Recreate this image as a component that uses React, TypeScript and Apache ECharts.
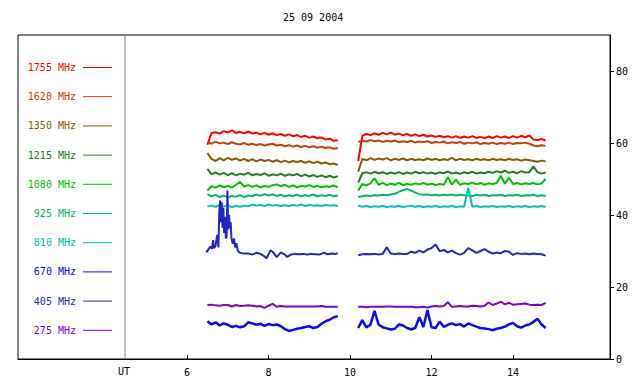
import React, { useEffect, useRef } from "react";
import * as echarts from "echarts";

const TITLE = "25 09 2004";
const FREQS = ["1755 MHz", "1620 MHz", "1350 MHz", "1215 MHz", "1080 MHz", "925 MHz", "810 MHz", "670 MHz", "405 MHz", "275 MHz"];
const X_TICKS = [6, 8, 10, 12, 14];
const Y_TICKS = [0, 20, 40, 60, 80];

const T1 = [6.5, 6.6, 6.7, 6.8, 6.9, 7.0, 7.1, 7.2, 7.3, 7.4, 7.5, 7.6, 7.7, 7.8, 7.9, 8.0, 8.1, 8.2, 8.3, 8.4, 8.5, 8.6, 8.7, 8.8, 8.9, 9.0, 9.1, 9.2, 9.3, 9.4, 9.5, 9.6, 9.7];
const T2 = [10.2, 10.3, 10.4, 10.5, 10.6, 10.7, 10.8, 10.9, 11.0, 11.1, 11.2, 11.3, 11.4, 11.5, 11.6, 11.7, 11.8, 11.9, 12.0, 12.1, 12.2, 12.3, 12.4, 12.5, 12.6, 12.7, 12.8, 12.9, 13.0, 13.1, 13.2, 13.3, 13.4, 13.5, 13.6, 13.7, 13.8, 13.9, 14.0, 14.1, 14.2, 14.3, 14.4, 14.5, 14.6, 14.7, 14.8];

const F1755_A = [59.5, 62.8, 63.0, 62.6, 63.3, 62.9, 63.5, 62.8, 63.1, 62.7, 63.2, 62.6, 62.9, 62.4, 62.8, 62.3, 62.7, 62.2, 62.5, 62.0, 62.4, 61.9, 62.2, 61.7, 62.0, 61.5, 61.8, 61.3, 61.5, 61.0, 61.2, 60.6, 60.8];
const F1755_B = [55.0, 62.0, 62.5, 62.2, 62.7, 62.3, 62.8, 62.4, 62.9, 62.3, 62.6, 62.2, 62.5, 62.0, 62.4, 61.9, 62.3, 61.8, 62.1, 61.7, 62.0, 61.6, 61.9, 61.5, 61.9, 61.4, 61.8, 61.5, 61.9, 61.4, 61.7, 61.3, 61.8, 61.4, 61.9, 61.5, 61.8, 61.4, 61.9, 61.5, 62.0, 61.6, 62.1, 61.0, 60.8, 61.1, 60.7];
const F1620_A = [60.2, 59.8, 60.4, 59.9, 60.1, 59.7, 60.2, 59.8, 59.6, 60.0, 59.5, 59.8, 59.4, 59.7, 59.3, 59.6, 59.8, 59.3, 59.5, 59.1, 59.4, 59.0, 59.3, 58.9, 59.2, 58.8, 59.1, 58.7, 59.0, 58.6, 58.8, 58.4, 58.6];
const F1620_B = [60.3, 60.6, 60.4, 60.8, 60.5, 60.7, 60.3, 60.6, 60.4, 60.7, 60.2, 60.5, 60.3, 60.6, 60.1, 60.4, 60.2, 60.5, 60.0, 60.3, 60.1, 60.4, 59.9, 60.2, 60.0, 60.3, 59.8, 60.1, 59.9, 60.2, 59.7, 60.0, 59.8, 60.1, 59.7, 60.0, 59.8, 60.1, 59.7, 60.0, 59.9, 60.1, 59.8, 59.3, 59.1, 59.4, 59.2];
const F1350_A = [57.2, 55.6, 55.0, 55.8, 55.2, 55.9, 55.3, 55.7, 55.1, 55.6, 55.0, 55.5, 54.9, 55.4, 55.0, 55.3, 54.8, 55.2, 54.7, 55.1, 54.6, 55.0, 54.7, 55.0, 54.5, 54.9, 54.4, 54.8, 54.3, 54.6, 54.1, 54.3, 53.9];
const F1350_B = [52.0, 55.6, 55.2, 55.8, 55.3, 55.7, 55.4, 55.8, 55.2, 55.6, 55.3, 55.7, 55.2, 55.6, 55.3, 55.5, 55.2, 55.7, 55.3, 55.6, 55.2, 55.5, 55.3, 55.9, 55.2, 55.6, 55.3, 55.5, 55.2, 55.6, 55.3, 55.5, 55.2, 55.6, 55.3, 55.5, 55.2, 55.6, 55.3, 55.5, 55.1, 55.4, 55.2, 55.0, 54.8, 55.1, 54.9];
const F1215_A = [52.8, 51.3, 51.8, 51.2, 51.7, 51.1, 51.6, 51.0, 51.5, 51.2, 51.7, 51.0, 51.4, 51.1, 51.6, 50.9, 51.3, 51.0, 51.5, 50.9, 51.3, 51.0, 51.4, 50.8, 51.2, 50.7, 51.1, 50.6, 51.0, 50.5, 50.9, 50.4, 50.8];
const F1215_B = [49.0, 51.6, 51.9, 51.5, 52.0, 51.6, 51.9, 51.4, 51.8, 51.5, 51.9, 51.4, 51.8, 51.5, 52.0, 51.6, 51.9, 51.5, 51.8, 51.4, 51.9, 51.6, 52.1, 51.5, 51.8, 51.4, 51.9, 51.6, 52.0, 51.5, 51.8, 51.6, 52.0, 51.7, 52.2, 51.8, 52.3, 51.7, 52.0, 51.6, 52.2, 51.8, 51.9, 53.5, 51.9, 51.5, 51.8];
const F1080_A = [46.8, 48.0, 47.6, 48.2, 47.7, 48.1, 47.6, 48.4, 49.2, 47.9, 48.3, 47.8, 48.2, 47.7, 48.1, 47.8, 48.3, 48.5, 48.0, 48.4, 47.8, 48.2, 47.7, 48.1, 47.9, 48.3, 47.8, 48.1, 47.7, 48.0, 47.8, 48.2, 47.7];
const F1080_B = [46.8, 48.6, 48.2, 48.8, 50.2, 48.4, 48.9, 48.3, 48.7, 48.4, 48.9, 48.3, 48.6, 48.4, 48.8, 48.5, 48.9, 48.4, 48.7, 48.3, 48.6, 48.4, 50.5, 48.5, 49.8, 48.4, 48.8, 48.6, 49.0, 48.5, 48.9, 48.4, 48.8, 48.6, 48.9, 50.9, 48.7, 50.3, 48.6, 48.9, 48.5, 48.8, 48.6, 48.9, 48.5, 48.8, 50.0];
const F925_A = [45.8, 45.2, 45.6, 45.0, 45.4, 44.9, 45.3, 45.1, 45.5, 45.0, 45.4, 45.2, 45.7, 45.3, 45.8, 45.4, 45.7, 45.3, 45.6, 45.2, 45.5, 45.3, 45.6, 45.2, 45.5, 45.3, 45.7, 45.2, 45.5, 45.3, 45.6, 45.2, 45.4];
const F925_B = [45.0, 45.2, 45.4, 45.3, 45.5, 45.4, 45.6, 45.5, 45.7, 45.9, 46.4, 46.9, 47.2, 46.8, 46.2, 45.8, 45.6, 45.7, 45.5, 45.6, 45.4, 45.6, 45.5, 45.7, 45.4, 45.6, 45.5, 45.5, 45.3, 45.6, 45.4, 45.6, 45.3, 45.5, 45.4, 45.6, 45.3, 45.5, 45.4, 45.6, 45.3, 45.5, 45.4, 45.6, 45.3, 45.5, 45.3];
const F810_A = [42.4, 42.6, 42.3, 42.7, 42.4, 42.6, 42.2, 42.5, 42.3, 42.6, 42.4, 42.9, 42.6, 42.8, 42.5, 42.9, 42.6, 42.8, 42.5, 42.7, 42.5, 42.8, 42.6, 42.9, 42.5, 42.8, 42.6, 42.7, 42.5, 42.8, 42.6, 42.7, 42.5];
const F810_B = [42.6, 42.3, 42.5, 42.2, 42.4, 42.3, 42.5, 42.2, 42.4, 42.3, 42.5, 42.2, 42.4, 42.6, 42.3, 42.5, 42.2, 42.4, 42.3, 42.5, 42.2, 42.4, 42.3, 42.5, 42.2, 42.4, 42.3, 47.6, 42.3, 42.5, 42.2, 42.4, 42.3, 42.5, 42.2, 42.4, 42.3, 42.5, 42.2, 42.4, 42.3, 42.5, 42.2, 42.4, 42.3, 42.5, 42.2];
// 670 MHz (bright blue, lowest trace)
const F670_A = [10.5, 9.6, 10.2, 9.3, 9.9, 9.5, 8.9, 9.2, 8.8, 9.1, 10.2, 9.9, 9.5, 9.8, 9.2, 9.7, 9.4, 9.6, 9.1, 8.3, 7.8, 8.1, 8.4, 8.6, 8.9, 9.1, 8.6, 8.9, 9.8, 10.5, 10.9, 11.6, 11.9];
const F670_B = [8.6, 10.8, 8.8, 9.5, 13.4, 9.6, 8.8, 8.5, 8.2, 8.4, 9.6, 9.3, 8.6, 8.2, 8.6, 11.6, 8.9, 13.6, 8.8, 8.6, 10.4, 8.9, 9.5, 9.9, 9.4, 9.7, 9.0, 9.9, 9.4, 9.0, 8.6, 8.5, 8.3, 8.0, 8.4, 8.6, 9.0, 9.6, 10.0, 9.1, 8.7, 9.3, 9.6, 10.3, 11.2, 9.6, 8.6];
// 405 MHz (dark blue, with burst) - own sampling in first segment
const T405_A = [6.47, 6.52, 6.57, 6.61, 6.64, 6.66, 6.7, 6.74, 6.77, 6.79, 6.81, 6.83, 6.85, 6.87, 6.89, 6.91, 6.93, 6.95, 6.97, 6.99, 7.01, 7.03, 7.05, 7.07, 7.09, 7.12, 7.15, 7.18, 7.21, 7.24, 7.28, 7.35, 7.4, 7.5, 7.6, 7.7, 7.8, 7.9, 7.95, 8.05, 8.1, 8.2, 8.3, 8.4, 8.45, 8.55, 8.65, 8.75, 8.85, 8.95, 9.05, 9.15, 9.25, 9.35, 9.45, 9.55, 9.65, 9.7];
const F405_A = [29.6, 30.4, 31.2, 30.6, 33.0, 30.8, 31.5, 34.5, 31.0, 41.0, 44.0, 38.0, 43.5, 36.5, 42.0, 35.0, 39.5, 33.5, 34.0, 46.8, 36.0, 40.0, 36.5, 38.0, 33.5, 32.0, 33.5, 31.0, 32.2, 30.2, 29.6, 29.4, 29.3, 29.3, 29.0, 29.5, 29.2, 28.5, 28.0, 30.2, 29.8, 28.3, 29.6, 29.0, 28.4, 29.0, 29.2, 29.1, 29.2, 29.0, 29.2, 29.1, 29.0, 29.5, 29.1, 29.3, 29.2, 29.4];
const F405_B = [28.8, 29.1, 29.2, 29.1, 29.2, 29.0, 29.2, 31.0, 29.3, 29.2, 29.3, 29.2, 29.2, 29.8, 29.5, 30.1, 29.6, 30.4, 30.8, 31.8, 29.9, 30.3, 29.6, 30.1, 29.4, 29.0, 29.5, 30.8, 30.2, 29.5, 30.0, 30.5, 29.8, 29.3, 29.6, 29.4, 30.0, 29.8, 28.9, 29.4, 29.2, 29.3, 29.1, 29.3, 29.2, 29.1, 28.7];
const F275_A = [15.0, 15.1, 14.9, 14.8, 15.0, 15.0, 14.6, 15.0, 14.7, 14.8, 14.9, 14.8, 14.6, 14.7, 14.2, 14.8, 15.3, 14.5, 14.7, 14.6, 14.6, 14.6, 14.6, 14.6, 14.6, 14.6, 14.6, 14.6, 14.7, 14.5, 14.5, 14.5, 14.5];
const F275_B = [14.5, 14.5, 14.4, 14.5, 14.5, 14.5, 14.5, 14.6, 14.6, 14.5, 14.5, 14.5, 14.5, 14.5, 14.4, 14.4, 14.5, 14.3, 14.6, 14.7, 14.6, 14.7, 15.8, 14.5, 14.6, 14.7, 14.6, 14.6, 14.8, 14.7, 14.6, 14.8, 15.7, 15.0, 15.4, 15.9, 15.2, 15.6, 15.1, 15.2, 15.3, 15.4, 15.1, 15.0, 15.1, 15.0, 15.6];

const COLORS = ["#ff0000", "#c84000", "#8b5a00", "#208020", "#00c000", "#00bb66", "#00c0c0", "#0a0aee", "#2424c0", "#8000c8"];
const FONT = "DejaVu Sans Mono";

function seg(ta: number[], va: number[], tb: number[], vb: number[]) {
  const a = ta.map((t, i) => [t, va[i]]);
  const b = tb.map((t, i) => [t, vb[i]]);
  return [...a, [9.95, "-"], ...b];
}

export default function App() {
  const ref = useRef<HTMLDivElement>(null);
  useEffect(() => {
    if (!ref.current) return;
    const chart = echarts.init(ref.current, undefined, { renderer: "svg" });
    const seriesData = [
      seg(T1, F1755_A, T2, F1755_B),
      seg(T1, F1620_A, T2, F1620_B),
      seg(T1, F1350_A, T2, F1350_B),
      seg(T1, F1215_A, T2, F1215_B),
      seg(T1, F1080_A, T2, F1080_B),
      seg(T1, F925_A, T2, F925_B),
      seg(T1, F810_A, T2, F810_B),
      seg(T1, F670_A, T2, F670_B),
      seg(T405_A, F405_A, T2, F405_B),
      seg(T1, F275_A, T2, F275_B),
    ];
    const legendGraphics: any[] = [];
    FREQS.forEach((name, i) => {
      const y = 67.5 + i * 29.2;
      legendGraphics.push({
        type: "text",
        x: 76,
        y,
        style: { text: name, fill: COLORS[i], font: `10px '${FONT}'`, textAlign: "right", textVerticalAlign: "middle" },
      });
      legendGraphics.push({
        type: "line",
        shape: { x1: 83, y1: y, x2: 112, y2: y },
        style: { stroke: COLORS[i], lineWidth: 1 },
      });
    });
    chart.setOption({
      animation: false,
      backgroundColor: "#ffffff",
      title: {
        text: TITLE,
        left: 283,
        top: 12,
        padding: 0,
        textStyle: { fontFamily: FONT, fontSize: 10, fontWeight: "normal", color: "#000" },
      },
      grid: { left: 18, right: 30, top: 35, bottom: 25, show: true, borderColor: "#000", borderWidth: 1 },
      xAxis: {
        type: "value",
        min: 1.85,
        max: 16.38,
        axisLine: { show: true, lineStyle: { color: "#000", width: 1 } },
        axisTick: { show: true, inside: true, length: 4, customValues: X_TICKS, lineStyle: { color: "#000" } },
        axisLabel: { customValues: X_TICKS, color: "#000", fontFamily: FONT, fontSize: 10, margin: 8 },
        splitLine: { show: false },
      },
      yAxis: {
        type: "value",
        position: "right",
        min: 0,
        max: 90,
        axisLine: { show: true, lineStyle: { color: "#000", width: 1 } },
        axisTick: { show: true, inside: false, length: 4, customValues: Y_TICKS, lineStyle: { color: "#000" } },
        axisLabel: { customValues: Y_TICKS, color: "#000", fontFamily: FONT, fontSize: 10, margin: 6 },
        splitLine: { show: false },
      },
      graphic: [
        {
          type: "line",
          shape: { x1: 125, y1: 35, x2: 125, y2: 359 },
          style: { stroke: "#808080", lineWidth: 1 },
        },
        {
          type: "text",
          x: 124,
          y: 371,
          style: { text: "UT", fill: "#000", font: `10px '${FONT}'`, textAlign: "center", textVerticalAlign: "middle" },
        },
        ...legendGraphics,
      ],
      series: FREQS.map((name, i) => ({
        name,
        type: "line",
        showSymbol: false,
        silent: true,
        connectNulls: false,
        data: seriesData[i],
        lineStyle: { color: COLORS[i], width: i === 7 ? 2.5 : 2 },
        itemStyle: { color: COLORS[i] },
      })),
    });
    return () => chart.dispose();
  }, []);
  return <div ref={ref} style={{ position: "fixed", left: 0, top: 0, width: 640, height: 384 }} />;
}
